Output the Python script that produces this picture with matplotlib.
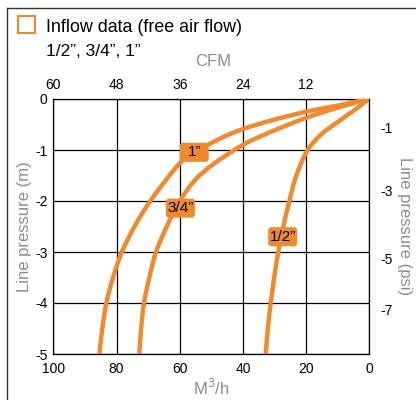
import matplotlib
matplotlib.use("Agg")
import matplotlib.pyplot as plt
from matplotlib.lines import Line2D
from matplotlib.patches import Rectangle, FancyBboxPatch, PathPatch
from matplotlib.path import Path
from matplotlib.transforms import IdentityTransform

plt.rcParams['font.family'] = ['Liberation Sans', 'DejaVu Sans']

# ---- data ----
flow_1in = [0, 2.6, 10, 20, 31, 40, 47, 56, 61, 69.3, 74.3, 78.3, 81.1, 83.2, 84.5, 85.4]
press_1in = [0, -0.03, -0.13, -0.25, -0.42, -0.59, -0.77, -1.07, -1.33, -2.0, -2.5, -3.0, -3.5, -4.0, -4.5, -5.0]

flow_34in = [0, 2.6, 10, 20, 31, 40, 49.4, 55, 60, 64.1, 67.5, 69.6, 71.3, 72.2, 72.8]
press_34in = [0, -0.04, -0.17, -0.37, -0.64, -0.9, -1.28, -1.58, -2.0, -2.5, -3.0, -3.5, -4.0, -4.5, -5.0]

flow_12in = [0, 1.6, 4.75, 10, 15.5, 19.8, 23.2, 25.3, 27.2, 28.8, 30.1, 31.2, 32.1, 32.8]
press_12in = [0, -0.07, -0.22, -0.45, -0.71, -1.03, -1.52, -2.0, -2.5, -3.0, -3.5, -4.0, -4.5, -5.0]

series_labels = ['1\u201d', '3/4\u201d', '1/2\u201d']
label_pos = [(55.4, -1.045), (59.8, -2.14), (27.4, -2.70)]

m3h_ticks = [100, 80, 60, 40, 20, 0]
m_ticks = [0, -1, -2, -3, -4, -5]
cfm_ticks_pos = [100, 80, 60, 40, 20]
cfm_labels = ['60', '48', '36', '24', '12']
psi_ticks_pos = [-0.56, -1.80, -3.12, -4.12]
psi_labels = ['-1', '-3', '-5', '-7']

ORANGE = '#F08A2E'
GRAY = '#8C8C8C'

W, H = 416, 400
fig = plt.figure(figsize=(W / 100, H / 100), dpi=100)
fig.patch.set_facecolor('white')

L, R, T, B = 53.3, 369.3, 99, 354
ax = fig.add_axes([L / W, 1 - B / H, (R - L) / W, (B - T) / H])
ax.set_xlim(100, 0)
ax.set_ylim(-5, 0)
ax.set_xticks(m3h_ticks)
ax.set_yticks(m_ticks)
ax.set_yticklabels([str(v) for v in m_ticks])
ax.set_xticklabels([str(v) for v in m3h_ticks])
ax.tick_params(axis='x', length=0, pad=6, labelsize=10)
ax.tick_params(axis='y', length=0, pad=4, labelsize=10)
ax.grid(True, color='black', linewidth=0.9)
ax.set_axisbelow(True)
for s in ax.spines.values():
    s.set_linewidth(0.9)
    s.set_color('black')


def smooth_path(xs, ys):
    """Catmull-Rom curve through the given points, as cubic Bezier segments."""
    pts = list(zip(xs, ys))
    n = len(pts)
    verts = [pts[0]]
    codes = [Path.MOVETO]
    for i in range(n - 1):
        p0 = pts[i - 1] if i > 0 else pts[i]
        p1 = pts[i]
        p2 = pts[i + 1]
        p3 = pts[i + 2] if i + 2 < n else pts[i + 1]
        c1 = (p1[0] + (p2[0] - p0[0]) / 6.0, p1[1] + (p2[1] - p0[1]) / 6.0)
        c2 = (p2[0] - (p3[0] - p1[0]) / 6.0, p2[1] - (p3[1] - p1[1]) / 6.0)
        verts += [c1, c2, p2]
        codes += [Path.CURVE4, Path.CURVE4, Path.CURVE4]
    return Path(verts, codes)


for fx, py in [(flow_1in, press_1in), (flow_34in, press_34in), (flow_12in, press_12in)]:
    ax.add_patch(PathPatch(smooth_path(fx, py), facecolor='none', edgecolor=ORANGE,
                           linewidth=3.2, capstyle='butt', zorder=3))

for lab, (lx, ly) in zip(series_labels, label_pos):
    dx, dy = ax.transData.transform((lx, ly))
    box = FancyBboxPatch((dx - 14.5, dy - 9.5), 29, 19,
                         boxstyle='round,pad=0,rounding_size=3',
                         facecolor=ORANGE, edgecolor='none', transform=IdentityTransform(),
                         zorder=4)
    ax.add_patch(box)
    ax.text(lx, ly, lab, ha='center', va='center', fontsize=11, color='black', zorder=5)

ax.set_xlabel('M$^{3}$/h', color=GRAY, fontsize=12, labelpad=1)
ax.set_ylabel('Line pressure (m)', color=GRAY, fontsize=12, labelpad=2)

# top CFM axis
axt = ax.twiny()
axt.set_xlim(ax.get_xlim())
axt.set_xticks(cfm_ticks_pos)
axt.set_xticklabels(cfm_labels)
axt.tick_params(axis='x', length=0, pad=5, labelsize=10)
for s in axt.spines.values():
    s.set_visible(False)

# right psi axis
axr = ax.twinx()
axr.set_ylim(ax.get_ylim())
axr.set_yticks(psi_ticks_pos)
axr.set_yticklabels(psi_labels)
axr.tick_params(axis='y', length=0, pad=8, labelsize=10)
for s in axr.spines.values():
    s.set_visible(False)
axr.set_ylabel('Line pressure (psi)', color=GRAY, fontsize=12, rotation=270, labelpad=14)

# headings
fig.text(213 / W, 1 - 61 / H, 'CFM', color=GRAY, fontsize=12, ha='center', va='center')
fig.text(45.5 / W, 1 - 32 / H, 'Inflow data (free air flow)', fontsize=12.9, ha='left',
         va='baseline', color='black')
fig.text(45.5 / W, 1 - 55.5 / H, '1/2\u201d, 3/4\u201d, 1\u201d', fontsize=12.5, ha='left',
         va='baseline', color='black')
fig.add_artist(Rectangle((18 / W, 1 - 32.5 / H), 16.5 / W, 16.5 / H, transform=fig.transFigure,
                         facecolor='none', edgecolor=ORANGE, linewidth=1.5))

# frame lines
fig.add_artist(Line2D([7 / W, 7 / W], [0, 1 - 8 / H], color='#333333', linewidth=1.0))
fig.add_artist(Line2D([7 / W, 1], [1 - 8 / H, 1 - 8 / H], color='#333333', linewidth=1.0))

fig.savefig('out.png', dpi=100)
